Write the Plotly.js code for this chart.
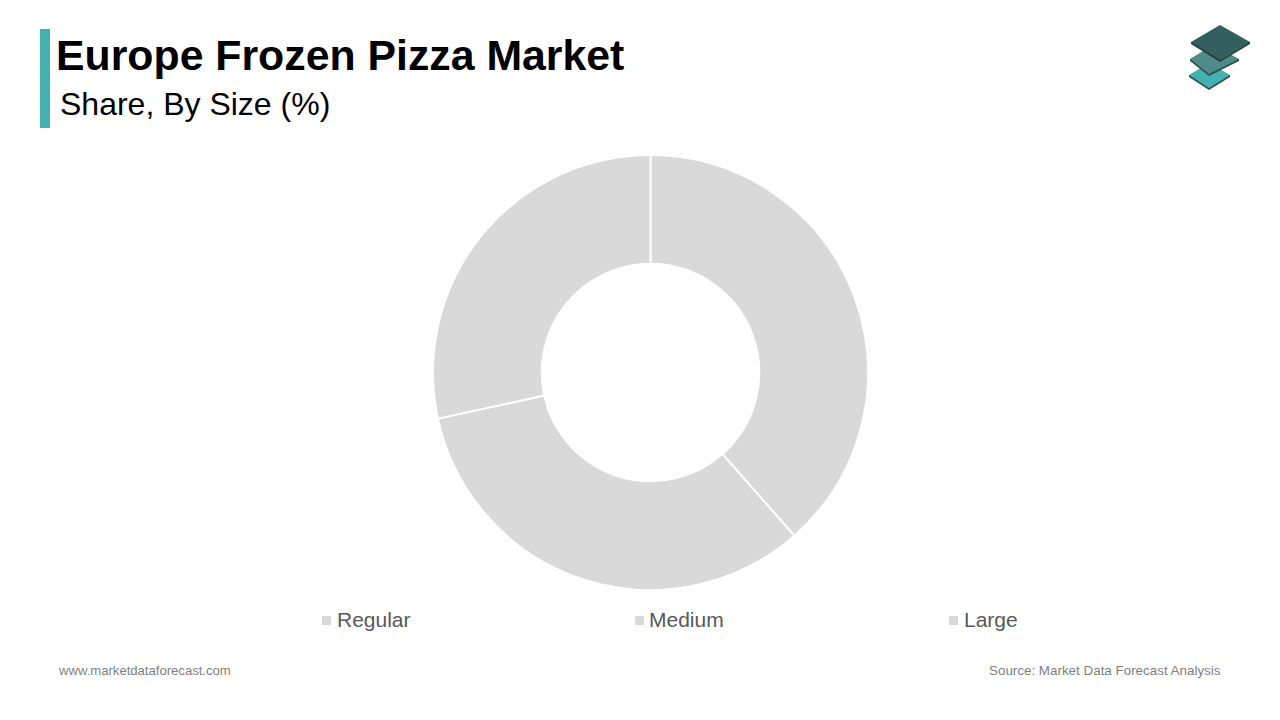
<!DOCTYPE html>
<html><head><meta charset="utf-8">
<script src="https://cdn.plot.ly/plotly-3.0.1.min.js"></script>
<style>html,body{margin:0;padding:0;background:#fff;overflow:hidden}#c{width:1280px;height:720px}</style>
</head><body><div id="c"></div>
<script>
const categories = ["Regular", "Medium", "Large"];
const shares = [38.5, 33.1, 28.4];
const sliceColor = "#d9d9d9";
const titleText = "Europe Frozen Pizza Market";
const subtitleText = "Share, By Size (%)";
const siteText = "www.marketdataforecast.com";
const sourceText = "Source: Market Data Forecast Analysis";
const legendSwatchX = [322, 635, 949];
const legendTextX = [336, 648, 963];

const W = 1280, H = 720;
const px = x => x / W, py = y => 1 - y / H;
const font = "Liberation Sans, Arial, sans-serif";
const text = (t, x, y, size, color, anchor, bold) => ({
  text: bold ? "<b>" + t + "</b>" : t, xref: "paper", yref: "paper",
  x: px(x), y: py(y), xanchor: anchor || "left", yanchor: "middle",
  showarrow: false, borderpad: 0, font: {family: font, size, color}
});
const poly = (pts, fill) => ({
  type: "path", xref: "paper", yref: "paper", layer: "above",
  path: "M" + pts.map(p => px(p[0]) + "," + py(p[1])).join("L") + "Z",
  fillcolor: fill, line: {width: 0}
});
const rect = (x0, y0, x1, y1, fill) => ({
  type: "rect", xref: "paper", yref: "paper",
  x0: px(x0), x1: px(x1), y0: py(y0), y1: py(y1),
  fillcolor: fill, line: {width: 0}
});

const shapes = [
  rect(40, 29, 50, 128, "#45b0b0"),
  poly([[1189,75],[1189,77],[1209,90],[1230,77],[1230,75]], "#2f4f4f"),
  poly([[1189,75],[1209,63],[1230,75],[1209,88]], "#45b0b0"),
  poly([[1190,59],[1190,61],[1209,76],[1239,61],[1239,59]], "#2f4f4f"),
  poly([[1190,59],[1213,45],[1239,59],[1209,74]], "#508a8a"),
  poly([[1191,42],[1191,44],[1220,62],[1250,44],[1250,42]], "#263f3f"),
  poly([[1191,42],[1220,25],[1250,42],[1221,60]], "#33605f"),
  ...legendSwatchX.map(x => rect(x, 616, x + 9, 625, sliceColor))
];

const annotations = [
  text(titleText, 55, 55, 42.8, "#000000", "left", true),
  text(subtitleText, 59, 104, 32, "#000000"),
  text(siteText, 57, 670, 13.1, "#7f7f7f"),
  text(sourceText, 1222, 670, 13.4, "#7f7f7f", "right"),
  ...categories.map((c, i) => text(c, legendTextX[i], 619, 21, "#595959"))
];

Plotly.newPlot("c", [{
  type: "pie", labels: categories, values: shares, hole: 0.5, sort: false,
  direction: "clockwise", rotation: 0, textinfo: "none", hoverinfo: "label+percent",
  marker: {colors: categories.map(() => sliceColor), line: {color: "#ffffff", width: 2}},
  domain: {x: [px(433), px(868)], y: [py(590), py(155)]}
}], {
  width: W, height: H, margin: {l: 0, r: 0, t: 0, b: 0},
  paper_bgcolor: "#ffffff", showlegend: false, font: {family: font},
  shapes, annotations
}, {displayModeBar: false, staticPlot: true});
</script></body></html>
